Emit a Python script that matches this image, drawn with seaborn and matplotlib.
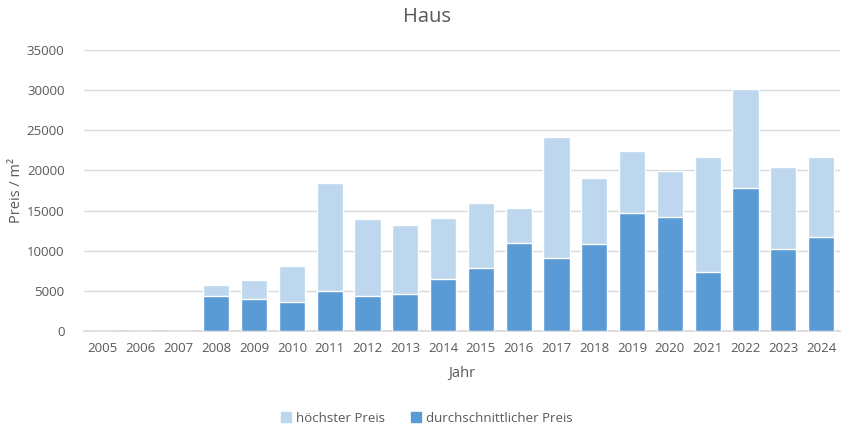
import matplotlib
matplotlib.use("Agg")
import matplotlib.pyplot as plt
import seaborn as sns
import pandas as pd
import numpy as np
from matplotlib.patches import Patch

years = [str(y) for y in range(2005, 2025)]
hoechster = [0, 0, 0, 5750, 6350, 8100, 18450, 13950, 13200, 14080, 15950,
             15320, 24170, 19060, 22420, 19930, 21680, 30150, 20430, 21680]
durchschnitt = [0, 0, 0, 4360, 3990, 3610, 4980, 4360, 4610, 6520, 7850,
                10960, 9100, 10840, 14700, 14200, 7350, 17820, 10220, 11710]

df = pd.DataFrame({"Jahr": years, "hoechster": hoechster, "durchschnitt": durchschnitt})

sns.set_theme(style="white")
plt.rcParams["font.family"] = ["Open Sans", "DejaVu Sans"]

light = "#BDD7EE"
dark = "#5B9BD5"
txt = "#595959"

fig = plt.figure(figsize=(8.54, 4.41), dpi=100)
ax = fig.add_axes([84/854, 110/441, 756/854, 281/441])

sns.barplot(data=df, x="Jahr", y="hoechster", order=years, color=light,
            saturation=1, width=0.69, ax=ax, zorder=2)
sns.barplot(data=df, x="Jahr", y="durchschnitt", order=years, color=dark,
            saturation=1, width=0.69, ax=ax, zorder=3)

ax.set_xlim(-0.5, 19.5)
ax.set_ylim(0, 35000)
ax.set_yticks(np.arange(0, 35001, 5000))
ax.set_yticklabels([str(v) for v in range(0, 35001, 5000)])
ax.yaxis.grid(True, color="#D9D9D9", linewidth=1, zorder=0)
ax.set_axisbelow(True)
for s in ["top", "right", "left"]:
    ax.spines[s].set_visible(False)
ax.spines["bottom"].set_color("#D9D9D9")
ax.tick_params(axis="both", length=0, labelsize=9.5, colors=txt)
ax.tick_params(axis="y", pad=14)
ax.tick_params(axis="x", pad=8)
ax.set_xlabel("Jahr", fontsize=10.5, color=txt, labelpad=8)
ax.set_ylabel("Preis / m²", fontsize=10.5, color=txt)
ax.yaxis.set_label_coords(-0.079, 0.5)
fig.suptitle("Haus", y=0.985, fontsize=14.5, color=txt)

handles = [Patch(color=light, label="höchster Preis"),
           Patch(color=dark, label="durchschnittlicher Preis")]
fig.legend(handles=handles, loc="center", bbox_to_anchor=(0.5, 1 - 418/441),
           ncol=2, frameon=False, fontsize=9.5, handlelength=0.7, handleheight=0.7,
           columnspacing=2.0, handletextpad=0.4, labelcolor=txt)

fig.savefig("out.png", dpi=100)
